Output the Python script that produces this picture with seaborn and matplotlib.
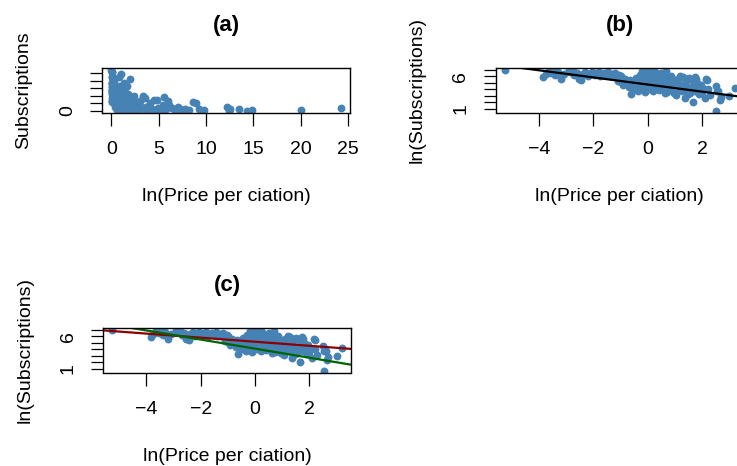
import numpy as np
import pandas as pd
import matplotlib
matplotlib.use("Agg")
import matplotlib.pyplot as plt
import seaborn as sns

# ln(price per citation) and ln(subscriptions) (b) and (c)
log_price = [-5.26, -3.85, -3.75, -3.65, -3.55, -3.45, -3.4, -3.3, -3.2, -3.1,
             -2.9, -2.85, -2.75, -2.7, -2.6, -2.55, -2.45, -2.4, -2.3, -2.2,
             -2.1, -2.05, -1.95, -1.9, -1.8, -1.75, -1.7, -1.6, -1.55, -1.45,
             -1.4, -1.3, -1.2, -1.15, -1.05, -1.0, -1.1, -0.98,
             -0.92, -0.85, -0.75, -0.7, -0.62, -0.55, -0.5, -0.45, -0.4, -0.35,
             -0.3, -0.25, -0.2, -0.18, -0.12, -0.1, -0.05, 0.0, -0.02, -0.65, -0.28,
             0.05, 0.08, 0.12, 0.15, 0.2, 0.22, 0.25, 0.3, 0.33, 0.38,
             0.4, 0.45, 0.5, 0.55, 0.6, 0.62, 0.68, 0.7, 0.75, 0.8,
             0.85, 0.9, 0.95, 1.0, 0.1, 0.35, 0.58, 0.88, 0.18, 0.72,
             1.05, 1.1, 1.15, 1.2, 1.25, 1.28, 1.3, 1.35, 1.4, 1.45,
             1.5, 1.55, 1.58, 1.6, 1.65, 1.7, 1.72, 1.75, 1.8, 1.85,
             1.9, 1.95, 2.0, 2.05, 2.1, 2.15, 2.19, 2.22, 2.28,
             1.12, 1.38, 1.48, 1.68, 1.78, 1.98, 1.02,
             2.5, 2.52, 2.53, 2.6, 2.66, 2.7, 3.0, 3.19]
log_subs = [7.0, 5.85, 6.3, 6.8, 6.45, 6.95, 6.2, 6.6, 5.6, 6.3,
            6.95, 6.6, 6.8, 6.2, 6.5, 5.6, 5.45, 6.3, 6.6, 6.1,
            6.4, 6.7, 6.25, 6.5, 6.7, 6.0, 6.4, 6.55, 6.2, 6.65,
            6.0, 6.35, 6.5, 5.8, 6.2, 6.0, 5.3, 5.1,
            4.7, 5.6, 5.2, 4.4, 3.2, 5.0, 4.0, 5.7, 4.6, 3.8,
            6.2, 5.3, 6.8, 4.3, 5.9, 3.6, 6.5, 4.9, 5.5, 5.4, 4.5,
            6.9, 4.1, 5.8, 6.4, 3.7, 5.1, 6.6, 4.6, 5.4, 6.2,
            3.9, 5.0, 6.5, 4.4, 5.7, 3.5, 6.75, 4.8, 5.3, 4.0,
            6.0, 4.5, 3.4, 5.1, 5.2, 4.3, 6.1, 5.5, 6.0, 3.6,
            3.1, 5.6, 4.2, 6.0, 3.7, 5.8, 4.7, 2.6, 5.3, 4.0,
            5.7, 3.5, 5.64, 4.4, 2.05, 5.0, 5.9, 3.8, 5.0, 4.3,
            3.2, 4.7, 3.6, 4.1, 2.6, 5.5, 5.36, 4.0, 3.15,
            4.9, 4.6, 3.3, 4.1, 5.6, 3.9, 4.8,
            4.56, 0.69, 3.7, 3.7, 2.3, 2.8, 2.9, 4.2]

# fitted lines: (intercept, slope) on the log scale
fit_b = (4.72, -0.545)
fit_c_red = (5.15, -0.311)
fit_c_green = (4.09, -0.696)

xticks_raw = [0, 5, 10, 15, 20, 25]
yticks_raw = [0, 200, 400, 600, 800, 1000]
yticklabels_raw = ["0", "", "", "", "", ""]
xticks_log = [-4, -2, 0, 2]
yticks_log = [1, 2, 3, 4, 5, 6, 7]
yticklabels_log = ["1", "", "", "", "", "6", ""]

journals = pd.DataFrame({"lprice": log_price, "lsubs": log_subs})
journals["price"] = np.exp(journals["lprice"])
journals["subs"] = np.exp(journals["lsubs"])

sns.set_theme(style="white")
plt.rcParams["font.family"] = ["Liberation Sans", "DejaVu Sans"]
plt.rcParams["text.color"] = "black"

W, H = 737, 466
fig = plt.figure(figsize=(W / 100, H / 100), dpi=100)


def panel(left, top, title, x, y, xlab, ylab, xt, yt, ytl):
    ax = fig.add_axes([left / W, 1 - (top + 44.5) / H, 248 / W, 44.5 / H])
    sns.scatterplot(data=journals, x=x, y=y, ax=ax, color="steelblue",
                    s=32, linewidth=0, alpha=1)
    ax.margins(x=0.04, y=0.04)
    ax.set_xticks(xt)
    ax.set_yticks(yt)
    ax.set_yticklabels(ytl)
    ax.tick_params(axis="both", direction="out", length=9, width=0.9,
                   color="black", labelsize=14, labelcolor="black",
                   bottom=True, left=True)
    ax.tick_params(axis="x", pad=11.5)
    ax.tick_params(axis="y", pad=10, labelrotation=90)
    for lab in ax.get_yticklabels():
        lab.set_va("center")
    for s in ax.spines.values():
        s.set_color("black")
        s.set_linewidth(1.0)
    ax.set_xlabel(xlab, fontsize=14, labelpad=21.5, color="black")
    ax.set_ylabel(ylab, fontsize=14, labelpad=19, color="black")
    ax.set_title(title, fontsize=16, fontweight="bold", pad=27, color="black")
    return ax


ax1 = panel(102.3, 68, "(a)", "price", "subs", "ln(Price per ciation)",
            "Subscriptions", xticks_raw, yticks_raw, yticklabels_raw)

ax2 = panel(495.7, 68, "(b)", "lprice", "lsubs", "ln(Price per ciation)",
            "ln(Subscriptions)", xticks_log, yticks_log, yticklabels_log)
ax2.axline((0, fit_b[0]), slope=fit_b[1], color="black", lw=1.6)

ax3 = panel(103, 328, "(c)", "lprice", "lsubs", "ln(Price per ciation)",
            "ln(Subscriptions)", xticks_log, yticks_log, yticklabels_log)
ax3.axline((0, fit_c_red[0]), slope=fit_c_red[1], color="darkred", lw=1.6)
ax3.axline((0, fit_c_green[0]), slope=fit_c_green[1], color="darkgreen", lw=1.6)

fig.savefig("out.png", dpi=100)
